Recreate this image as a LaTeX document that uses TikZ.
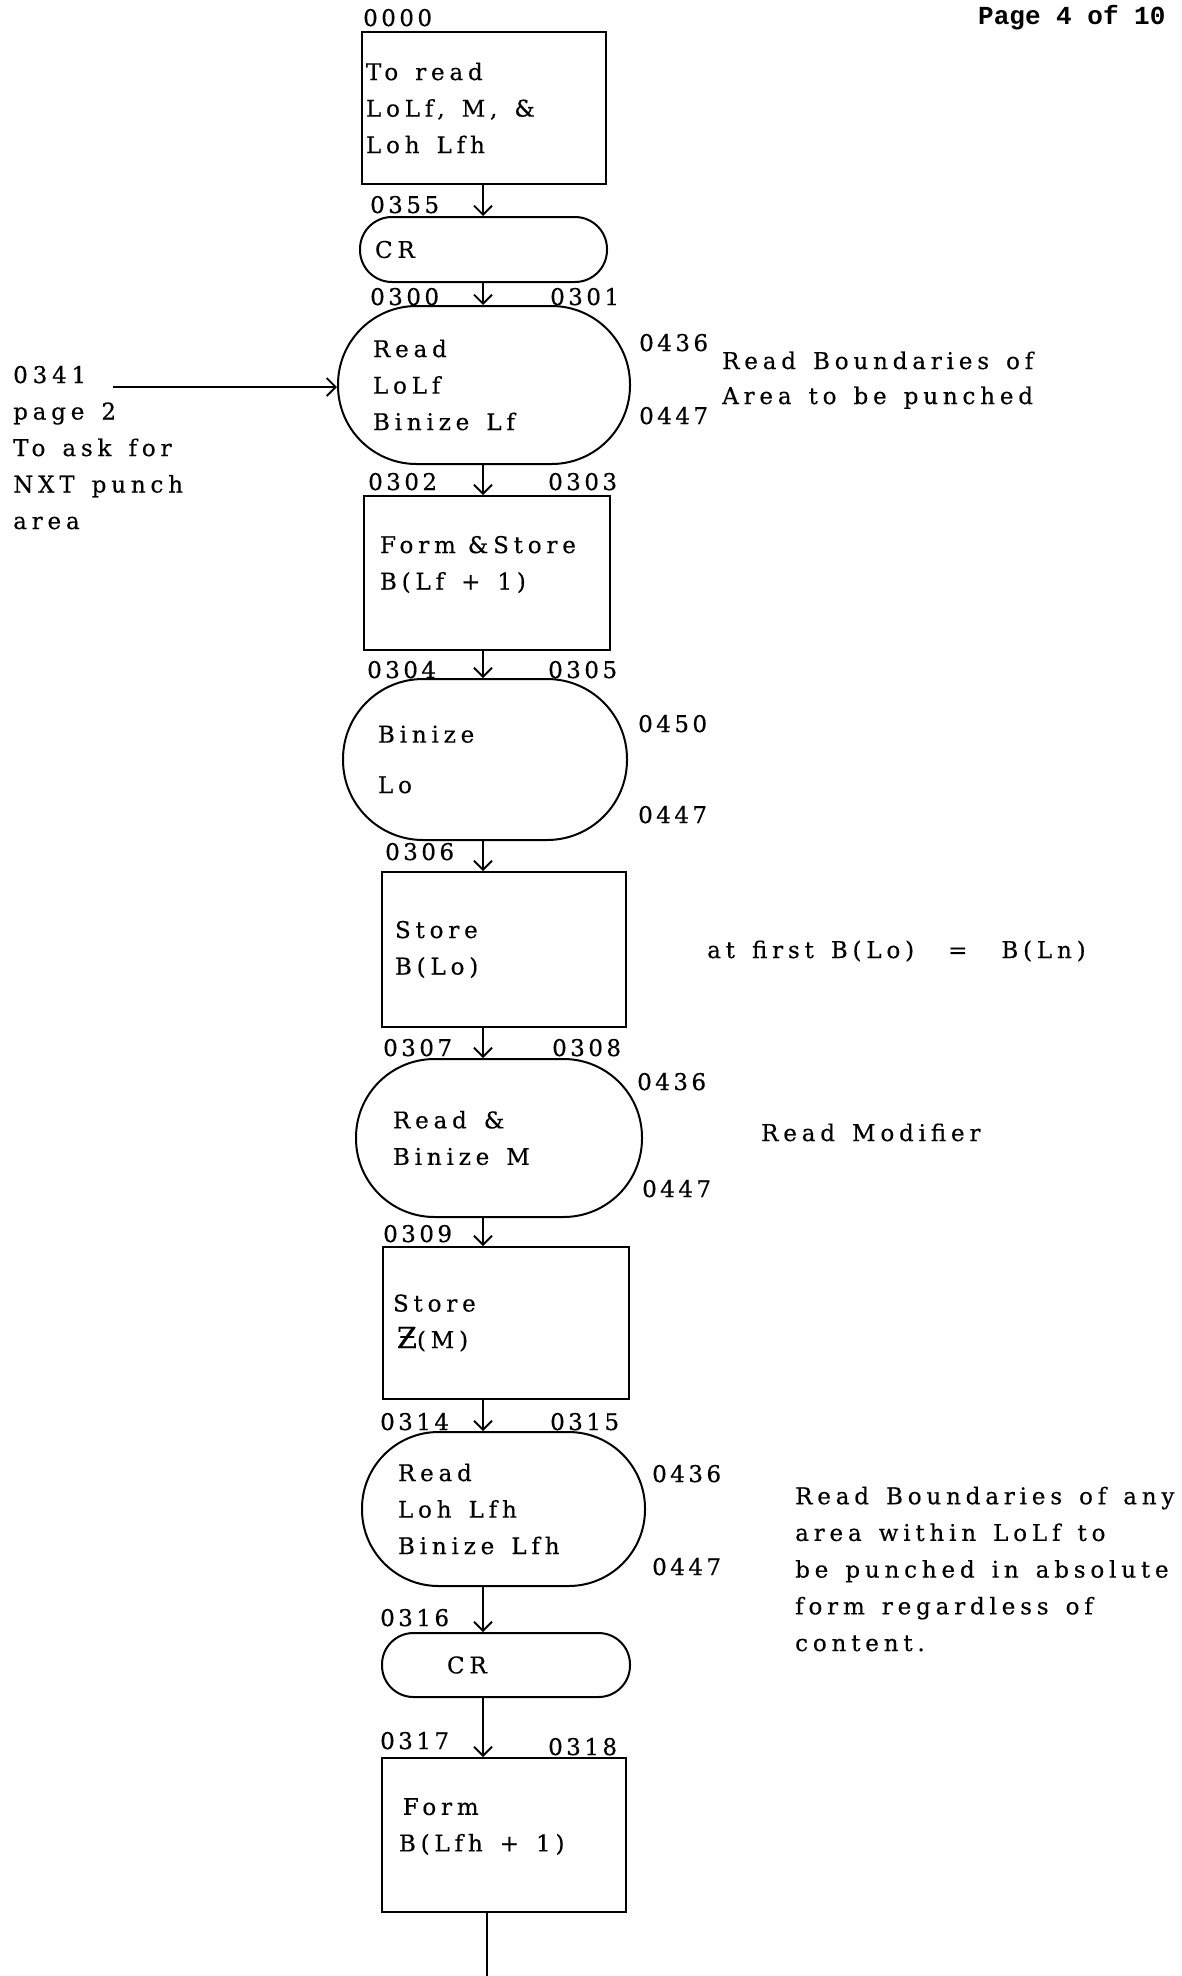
\documentclass[tikz,border=0pt]{standalone}
\usepackage{fontspec}
\setmainfont{DejaVu Serif}[LetterSpace=21, WordSpace=1.4, FakeBold=0.4]
\newfontfamily\addrfont{DejaVu Serif}[LetterSpace=15, FakeBold=0.4]
\newfontfamily\pagefont{Liberation Mono}
\usetikzlibrary{arrows.meta, positioning}
\newcommand{\wsp}{\hspace{17pt}}

\begin{document}
\begin{tikzpicture}[x=1pt, y=-1pt,
        font=\fontsize{23}{36.5}\selectfont,
        proc/.style={rectangle, draw=black, line width=2pt, align=left, inner ysep=0pt},
        term/.style={rectangle, draw=black, line width=2pt, align=left, inner ysep=0pt},
        addr/.style={anchor=base west, inner sep=0pt, font=\addrfont\fontsize{23}{36.5}\selectfont},
        note/.style={anchor=base west, align=left, inner sep=0pt},
        flow/.style={-{Straight Barb[length=9pt, width=18pt]}, line width=1.8pt}
    ]
    \fill[white] (0,0) rectangle (1181,1976);
    \useasboundingbox (0,0) rectangle (1181,1976);

    \node[anchor=base west, inner sep=0pt, font=\pagefont\bfseries\fontsize{26}{30}\selectfont] (pageno) at (978,24) {Page 4 of 10};

    % main column
    \node[proc, minimum height=152pt, text width=236pt, inner xsep=4pt] (tobox) at (484,108) {To\wsp read\\LoLf,\wsp M,\wsp\&\\Loh\wsp Lfh};
    \node[term, rounded corners=32pt, minimum height=65pt, text width=217pt, inner xsep=15pt] (cr1) at (483.5,249.5) {CR};
    \node[term, rounded corners=78.5pt, minimum height=158pt, text width=222pt, inner xsep=35pt] (rdlf) at (484,385) {Read\\LoLf\\Binize\wsp Lf};
    \node[proc, minimum height=154pt, text width=214pt, inner xsep=16pt] (formlf) at (487,573) {Form\hspace{12pt}\&Store\\B(Lf\wsp+\wsp 1)\\[-16pt]\mbox{}};
    \node[term, rounded corners=80pt, minimum height=161pt, text width=214pt, inner xsep=35pt] (binlo) at (485,759.5) {Binize\\[14pt]Lo};
    \node[proc, minimum height=155pt, text width=218pt, inner xsep=13pt] (storelo) at (504,949.5) {Store\\B(Lo)};
    \node[term, rounded corners=78.5pt, minimum height=158pt, text width=212pt, inner xsep=37pt] (readm) at (499,1138) {Read\wsp\&\\Binize\wsp M};
    \node[proc, minimum height=152pt, text width=226pt, inner xsep=10pt] (storem) at (506,1323) {Store\\\,{\fontsize{29}{30}\selectfont Ƶ}(M)};
    \node[term, rounded corners=76.5pt, minimum height=154pt, text width=211pt, inner xsep=36pt] (rdlfh) at (503.5,1509) {Read\\Loh\wsp Lfh\\Binize\wsp Lfh};
    \node[term, rounded corners=31.5pt, minimum height=64pt, text width=118pt, inner xsep=65pt] (cr2) at (506,1665) {CR};
    \node[proc, minimum height=154pt, text width=210pt, inner xsep=17pt] (formlfh) at (504,1835) {\,Form\\B(Lfh\wsp+\wsp 1)\\[-16pt]\mbox{}};

    \coordinate (spine) at (483,0);
    \coordinate (fromleft) at (113,387);
    \coordinate (exit) at (487,1976);

    \draw[flow] (tobox.south -| spine) -- (cr1.north -| spine);
    \draw[flow] (cr1.south -| spine) -- (rdlf.north -| spine);
    \draw[flow] (rdlf.south -| spine) -- (formlf.north -| spine);
    \draw[flow] (formlf.south -| spine) -- (binlo.north -| spine);
    \draw[flow] (binlo.south -| spine) -- (storelo.north -| spine);
    \draw[flow] (storelo.south -| spine) -- (readm.north -| spine);
    \draw[flow] (readm.south -| spine) -- (storem.north -| spine);
    \draw[flow] (storem.south -| spine) -- (rdlfh.north -| spine);
    \draw[flow] (rdlfh.south -| spine) -- (cr2.north -| spine);
    \draw[flow] (cr2.south -| spine) -- (formlfh.north -| spine);
    \draw[line width=1.8pt] (formlfh.south -| exit) -- (exit);
    \draw[flow] (fromleft) -- (fromleft -| rdlf.west);

    % addresses
    \node[addr] (a0000) at (363,26) {0000};
    \node[addr] (a0355) at (370,213) {0355};
    \node[addr] (a0300) at (370,305) {0300};
    \node[addr] (a0301) at (550,305) {0301};
    \node[addr] (a0436a) at (639,351) {0436};
    \node[addr] (a0447a) at (639,424) {0447};
    \node[addr] (a0302) at (368,490) {0302};
    \node[addr] (a0303) at (548,490) {0303};
    \node[addr] (a0304) at (367,678) {0304};
    \node[addr] (a0305) at (548,678) {0305};
    \node[addr] (a0450) at (638,732) {0450};
    \node[addr] (a0447b) at (638,823) {0447};
    \node[addr] (a0306) at (385,860) {0306};
    \node[addr] (a0307) at (383,1056) {0307};
    \node[addr] (a0308) at (552,1056) {0308};
    \node[addr] (a0436c) at (637,1090) {0436};
    \node[addr] (a0447c) at (642,1197) {0447};
    \node[addr] (a0309) at (383,1242) {0309};
    \node[addr] (a0314) at (380,1430) {0314};
    \node[addr] (a0315) at (550,1430) {0315};
    \node[addr] (a0436d) at (652,1482) {0436};
    \node[addr] (a0447d) at (652,1575) {0447};
    \node[addr] (a0316) at (380,1626) {0316};
    \node[addr] (a0317) at (380,1749) {0317};
    \node[addr] (a0318) at (548,1755) {0318};

    % side notes (base = last line)
    \node[note] (entry) at (13,529) {0341\\page 2\\To ask for\\NXT punch\\area};
    \node[note, font=\fontsize{23}{35}\selectfont] (bounds) at (722,404) {Read Boundaries of\\Area to be punched};
    \node[note] (firstlo) at (707,958) {at first B(Lo) \ = \ B(Ln)};
    \node[note] (modif) at (761,1141) {Read Modifier};
    \node[note, font=\fontsize{23}{36.7}\selectfont] (inner) at (795,1651) {Read Boundaries of any\\area within LoLf to\\be punched in absolute\\form regardless of\\content.};
\end{tikzpicture}
\end{document}
